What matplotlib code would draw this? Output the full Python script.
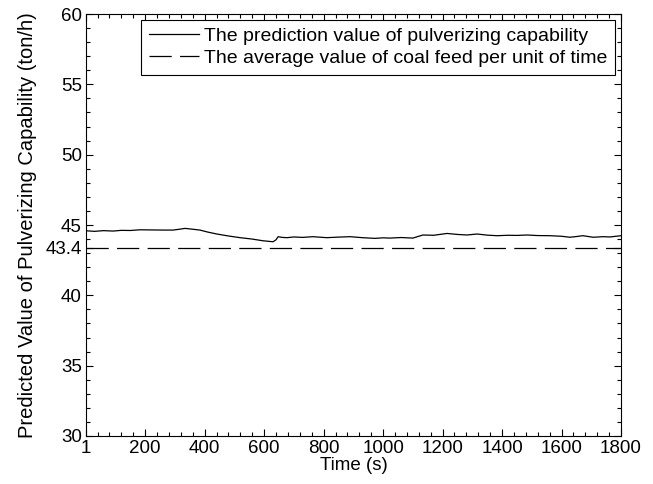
import numpy as np
import matplotlib
matplotlib.use("Agg")
import matplotlib.pyplot as plt
from matplotlib.ticker import MultipleLocator

plt.rcParams['font.family'] = ['Liberation Sans', 'DejaVu Sans']
plt.rcParams['lines.scale_dashes'] = False

# predicted pulverizing capability
time_s = [1, 30, 60, 92, 120, 150, 183, 220, 260, 294, 315, 334, 360, 384,
          410, 441, 480, 519, 560, 596, 615, 630, 640, 647, 660, 677, 700,
          730, 764, 790, 811, 850, 889, 930, 973, 1000, 1023, 1060, 1100,
          1134, 1170, 1215, 1250, 1282, 1316, 1350, 1383, 1420, 1450, 1484,
          1520, 1561, 1600, 1628, 1650, 1672, 1706, 1740, 1763, 1800]
prediction = [44.59, 44.55, 44.60, 44.57, 44.62, 44.61, 44.66, 44.65, 44.64,
              44.64, 44.70, 44.76, 44.70, 44.64, 44.50, 44.36, 44.22, 44.10,
              44.00, 43.88, 43.84, 43.81, 43.95, 44.17, 44.12, 44.10, 44.15,
              44.12, 44.17, 44.13, 44.10, 44.14, 44.17, 44.10, 44.05, 44.09,
              44.07, 44.11, 44.07, 44.29, 44.27, 44.40, 44.33, 44.29, 44.36,
              44.28, 44.24, 44.27, 44.26, 44.29, 44.25, 44.24, 44.20, 44.13,
              44.18, 44.24, 44.13, 44.17, 44.15, 44.24]
avg_coal_feed = 43.4

x_ticks = [1, 200, 400, 600, 800, 1000, 1200, 1400, 1600, 1800]
y_ticks = [30, 35, 40, 43.4, 45, 50, 55, 60]

fig = plt.figure(figsize=(6.53, 4.84), dpi=100)
ax = fig.add_axes([0.1317, 0.0992, 0.8193, 0.8718])

ax.plot(time_s, prediction, color='black', linewidth=0.9,
        label='The prediction value of pulverizing capability')
ax.plot([1, 1800], [avg_coal_feed, avg_coal_feed], color='black',
        linewidth=0.9, dashes=(16, 6),
        label='The average value of coal feed per unit of time')

ax.set_xlim(1, 1800)
ax.set_ylim(30, 60)
ax.set_xticks(x_ticks)
ax.set_yticks(y_ticks)
ax.set_yticklabels(['30', '35', '40', '43.4', '45', '50', '55', '60'])
ax.xaxis.set_minor_locator(MultipleLocator(40))
ax.yaxis.set_minor_locator(MultipleLocator(1))
ax.tick_params(which='both', direction='in', top=True, right=True,
               labelsize=13.5, width=0.8)
ax.tick_params(which='major', length=5, pad=3)
ax.tick_params(which='minor', length=3)
for s in ax.spines.values():
    s.set_linewidth(0.8)

ax.set_xlabel('Time (s)', fontsize=13.5, labelpad=0)
ax.set_ylabel('Predicted Value of Pulverizing Capability (ton/h)', fontsize=14.5,
              labelpad=6)

leg = ax.legend(loc='upper right', fontsize=14, frameon=True, fancybox=False,
                edgecolor='black', framealpha=1, handlelength=2.6,
                handletextpad=0.25, borderpad=0.4, labelspacing=0.2,
                borderaxespad=0.3)
leg.get_frame().set_linewidth(0.8)

fig.savefig('out.png', dpi=100)
